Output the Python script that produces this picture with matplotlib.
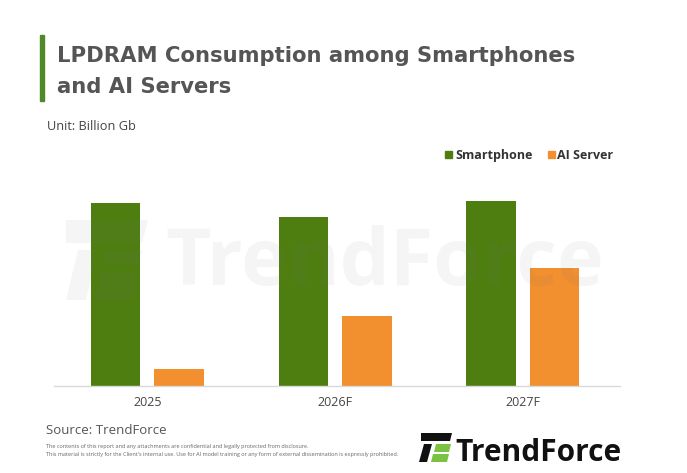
import matplotlib
matplotlib.use("Agg")
import matplotlib.pyplot as plt
from matplotlib.patches import Rectangle, Polygon
import numpy as np

categories = ["2025", "2026F", "2027F"]
smartphone = [109.6, 101.2, 111.2]
ai_server = [10.0, 42.0, 70.6]
series_names = ["Smartphone", "AI Server"]

GREEN = "#4e7d10"
ORANGE = "#f28f2f"
W, H = 687, 473

fig = plt.figure(figsize=(W / 100, H / 100), dpi=100)
fig.patch.set_facecolor("white")

def fx(px):
    return px / W

def fy(py):
    return 1 - py / H

ax = fig.add_axes([fx(53.5), fy(386), fx(620 - 53.5), (386 - 190) / H])
x = np.arange(len(categories))
bw = 0.264
off = 0.169
ax.bar(x - off, smartphone, bw, color=GREEN, zorder=2)
ax.bar(x + off, ai_server, bw, color=ORANGE, zorder=2)
ax.set_xlim(-0.5, 2.517)
ax.set_ylim(0, 117.6)
for s in ["top", "right", "left"]:
    ax.spines[s].set_visible(False)
ax.spines["bottom"].set_color("#d9d9d9")
ax.spines["bottom"].set_linewidth(1.0)
ax.set_yticks([])
ax.set_xticks(x)
ax.set_xticklabels(categories, fontsize=9, color="#444444", family="Open Sans")
ax.tick_params(axis="x", length=0, pad=7)
ax.set_facecolor("none")

# watermark
fig.text(fx(165), fy(285), "TrendForce", fontsize=57, fontweight="bold",
         family="Open Sans", color="#808080", alpha=0.08, zorder=10)
wm_icon = [
    Polygon([[fx(66), fy(220)], [fx(148), fy(220)], [fx(142), fy(243)], [fx(66), fy(243)]], closed=True),
    Polygon([[fx(78), fy(250)], [fx(98), fy(250)], [fx(86), fy(300)], [fx(66), fy(300)]], closed=True),
    Polygon([[fx(105), fy(250)], [fx(142), fy(250)], [fx(139), fy(265)], [fx(102), fy(265)]], closed=True),
    Polygon([[fx(100), fy(272)], [fx(137), fy(272)], [fx(134), fy(300)], [fx(95), fy(300)]], closed=True),
]
for p in wm_icon:
    p.set_transform(fig.transFigure)
    p.set_facecolor("#808080")
    p.set_alpha(0.08)
    p.set_edgecolor("none")
    p.set_zorder(10)
    fig.patches.append(p)

# title bar
fig.patches.append(Rectangle((fx(40), fy(101)), fx(4), (101 - 35) / H,
                             transform=fig.transFigure, color="#4e8a2a"))
fig.text(fx(57), fy(62), "LPDRAM Consumption among Smartphones", fontsize=15.2,
         fontweight="bold", family="DejaVu Sans", color="#555555")
fig.text(fx(57), fy(93), "and AI Servers", fontsize=15.2,
         fontweight="bold", family="DejaVu Sans", color="#555555")
fig.text(fx(47), fy(130), "Unit: Billion Gb", fontsize=9.2, family="Open Sans",
         color="#444444")

# legend
fig.patches.append(Rectangle((fx(445), fy(158)), fx(7), 7 / H, transform=fig.transFigure, color=GREEN))
fig.text(fx(455), fy(159), series_names[0], fontsize=9.0, fontweight="bold",
         family="Open Sans", color="#333333")
fig.patches.append(Rectangle((fx(548), fy(158)), fx(7), 7 / H, transform=fig.transFigure, color=ORANGE))
fig.text(fx(557), fy(159), series_names[1], fontsize=9.0, fontweight="bold",
         family="Open Sans", color="#333333")

# footer
fig.text(fx(46), fy(434), "Source: TrendForce", fontsize=9.5, family="Open Sans",
         color="#555555")
fig.text(fx(46), fy(448), "The contents of this report and any attachments are confidential and legally protected from disclosure.",
         fontsize=3.95, family="Open Sans", color="#666666")
fig.text(fx(46), fy(456), "This material is strictly for the Client's internal use. Use for AI model training or any form of external dissemination is expressly prohibited.",
         fontsize=3.95, family="Open Sans", color="#666666")

# logo
logo = [
    (Polygon([[fx(421), fy(433)], [fx(452), fy(433)], [fx(450), fy(441)], [fx(421), fy(441)]]), "#111111"),
    (Polygon([[fx(424), fy(444)], [fx(432), fy(444)], [fx(427), fy(462)], [fx(419), fy(462)]]), "#111111"),
    (Polygon([[fx(436), fy(444)], [fx(451), fy(444)], [fx(449), fy(452)], [fx(434), fy(452)]]), "#7cc242"),
    (Polygon([[fx(433), fy(454)], [fx(449), fy(454)], [fx(447), fy(462)], [fx(431), fy(462)]]), "#7cc242"),
]
for p, c in logo:
    p.set_transform(fig.transFigure)
    p.set_facecolor(c)
    p.set_edgecolor("none")
    fig.patches.append(p)
fig.text(fx(455), fy(461), "TrendForce", fontsize=21.5, fontweight="bold",
         family="Open Sans", color="#111111")

fig.savefig("out.png", dpi=100, facecolor="white")
